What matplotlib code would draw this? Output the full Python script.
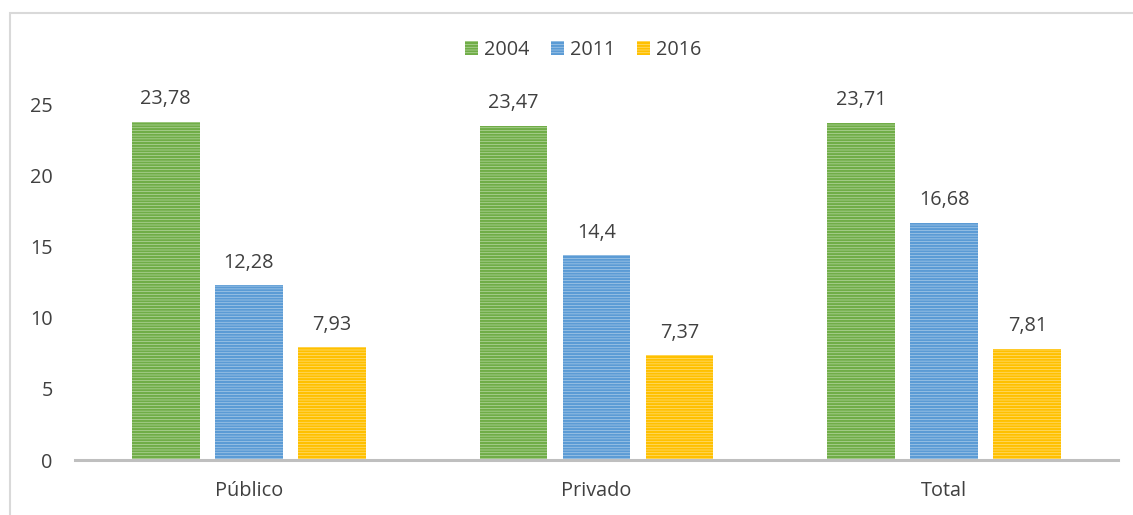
import matplotlib as mpl
mpl.use('Agg')
import matplotlib.pyplot as plt
from matplotlib.patches import Rectangle
import numpy as np

# data
categories = ['Público', 'Privado', 'Total']
years = ['2004', '2011', '2016']
v2004 = [23.78, 23.47, 23.71]
v2011 = [12.28, 14.4, 16.68]
v2016 = [7.93, 7.37, 7.81]
labels2004 = ['23,78', '23,47', '23,71']
labels2011 = ['12,28', '14,4', '16,68']
labels2016 = ['7,93', '7,37', '7,81']

dark = ['#70AD47', '#5B9BD5', '#FFC000']
light = ['#C9E2B8', '#BDD7EE', '#FFE699']

plt.rcParams['font.family'] = ['Open Sans', 'DejaVu Sans']
plt.rcParams['hatch.linewidth'] = 1.6
text_col = '#404040'
fs = 14.3


def main():
    fig = plt.figure(figsize=(11.33, 5.15), dpi=100)
    fig.patch.set_facecolor('white')
    # light frame round the chart
    fig.patches.append(Rectangle((10 / 1133, -0.1), 1.2, 0.1 + 1 - 13 / 515,
                                 transform=fig.transFigure, fill=False,
                                 edgecolor='#D9D9D9', linewidth=1.5))

    ax = fig.add_axes([75 / 1133, 1 - 460 / 515, 1043 / 1133, 427 / 515])
    x = np.arange(len(categories))
    width = 0.195
    offsets = [-0.239, 0, 0.239]
    series = [v2004, v2011, v2016]
    texts = [labels2004, labels2011, labels2016]

    for i in range(3):
        bars = ax.bar(x + offsets[i], series[i], width, color=light[i],
                      edgecolor=dark[i], hatch='------', linewidth=0,
                      label=years[i], zorder=2)
        for b, t in zip(bars, texts[i]):
            ax.annotate(t, (b.get_x() + b.get_width() / 2, b.get_height()),
                        xytext=(0, 9), textcoords='offset points',
                        ha='center', va='bottom', fontsize=fs, color=text_col)

    ax.set_xlim(-0.5, 2.5)
    ax.set_ylim(0, 30)
    ax.set_yticks([0, 5, 10, 15, 20, 25])
    ax.set_xticks(x)
    ax.set_xticklabels(categories)
    for s in ['top', 'right', 'left']:
        ax.spines[s].set_visible(False)
    ax.spines['bottom'].set_color('#BFBFBF')
    ax.spines['bottom'].set_linewidth(2.2)
    ax.spines['bottom'].set_zorder(3)
    ax.tick_params(axis='y', length=0, pad=16, labelsize=fs, labelcolor=text_col)
    ax.tick_params(axis='x', length=0, pad=15, labelsize=fs, labelcolor=text_col)

    leg = ax.legend(loc='center', bbox_to_anchor=(0.487, 1 - 17 / 427),
                    ncol=3, frameon=False, fontsize=fs, handlelength=0.65,
                    handleheight=0.75, handletextpad=0.3, columnspacing=1.1)
    for t in leg.get_texts():
        t.set_color(text_col)

    fig.savefig('out.png', dpi=100, facecolor='white')


if __name__ == '__main__':
    main()
